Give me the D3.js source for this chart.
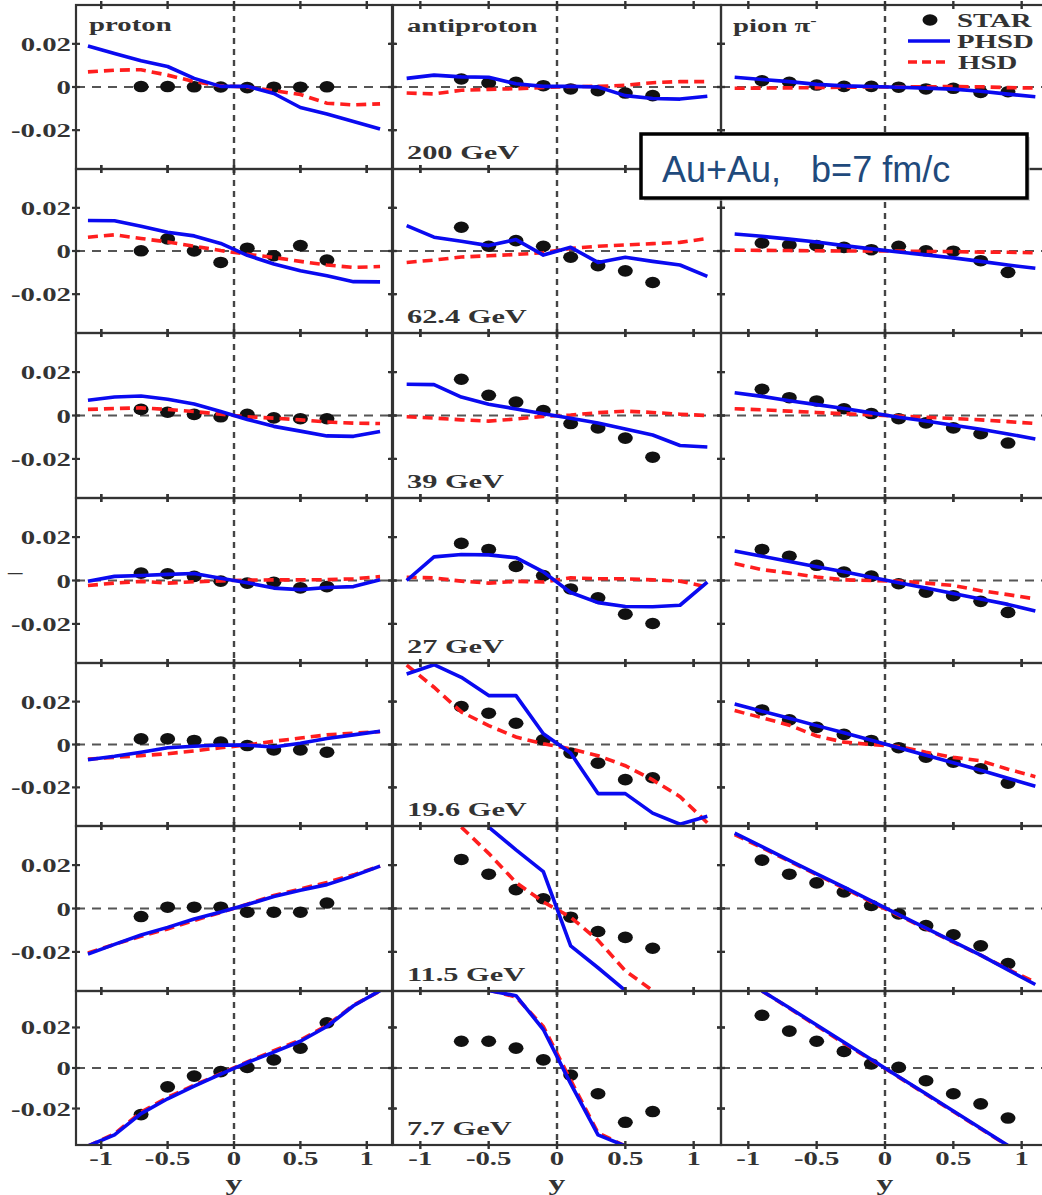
<!DOCTYPE html>
<html>
<head>
<meta charset="utf-8">
<script src="https://cdn.jsdelivr.net/npm/d3@7"></script>
<style>
  html, body { margin: 0; padding: 0; background: #fff; }
  svg { display: block; }
</style>
</head>
<body>
<svg id="chart" width="1042" height="1195"></svg>
<script>
// ---- data: directed flow v1 vs rapidity, Au+Au, b = 7 fm/c ----
const energies = ["200 GeV", "62.4 GeV", "39 GeV", "27 GeV", "19.6 GeV", "11.5 GeV", "7.7 GeV"];
const species = ["proton", "antiproton", "pion π"];

const yStar = [-0.7, -0.5, -0.3, -0.1, 0.1, 0.3, 0.5, 0.7];
const yStarPion = [-0.9, -0.7, -0.5, -0.3, -0.1, 0.1, 0.3, 0.5, 0.7, 0.9];
const yModel = [-1.1, -0.9, -0.7, -0.5, -0.3, -0.1, 0.1, 0.3, 0.5, 0.7, 0.9, 1.1];

const xTicks = [-1, -0.5, 0, 0.5, 1];
const xTickLabels = ["-1", "-0.5", "0", "0.5", "1"];
const vTicks = [0.02, 0, -0.02];
const vTickLabels = ["0.02", "0", "-0.02"];

// STAR measurements (one row per energy)
const starProton = [
  [0.0002, 0.0002, 0.0001, 0.0000, -0.0003, -0.0001, -0.0001, 0.0001],
  [0.0001, 0.0056, 0.0000, -0.0053, 0.0013, -0.0022, 0.0025, -0.0042],
  [0.0028, 0.0015, 0.0005, -0.0006, 0.0005, -0.0011, -0.0015, -0.0015],
  [0.0034, 0.0031, 0.0019, -0.0003, -0.0012, -0.0008, -0.0034, -0.0028],
  [0.0026, 0.0026, 0.0019, 0.0011, -0.0005, -0.0025, -0.0025, -0.0036],
  [-0.0037, 0.0006, 0.0006, 0.0006, -0.0017, -0.0017, -0.0017, 0.0025],
  [-0.0230, -0.0093, -0.0040, -0.0018, 0.0003, 0.0040, 0.0098, 0.0223]
];
const starAntiproton = [
  [0.0037, 0.0019, 0.0022, 0.0006, -0.0009, -0.0017, -0.0028, -0.0040],
  [0.0110, 0.0022, 0.0048, 0.0022, -0.0029, -0.0068, -0.0092, -0.0146],
  [0.0167, 0.0093, 0.0062, 0.0023, -0.0037, -0.0057, -0.0104, -0.0192],
  [0.0171, 0.0143, 0.0065, 0.0023, -0.0039, -0.0080, -0.0155, -0.0198],
  [0.0177, 0.0146, 0.0099, 0.0022, -0.0040, -0.0087, -0.0164, -0.0155],
  [0.0226, 0.0158, 0.0087, 0.0045, -0.0040, -0.0106, -0.0133, -0.0183],
  [0.0132, 0.0132, 0.0098, 0.0040, -0.0035, -0.0127, -0.0268, -0.0215]
];
const starPion = [
  [0.0029, 0.0022, 0.0009, 0.0003, 0.0003, -0.0001, -0.0009, -0.0006, -0.0025, -0.0022],
  [0.0037, 0.0028, 0.0025, 0.0017, 0.0006, 0.0022, 0.0001, -0.0001, -0.0045, -0.0099],
  [0.0121, 0.0082, 0.0067, 0.0031, 0.0009, -0.0015, -0.0034, -0.0057, -0.0084, -0.0127],
  [0.0143, 0.0112, 0.0070, 0.0039, 0.0020, -0.0015, -0.0054, -0.0070, -0.0096, -0.0147],
  [0.0161, 0.0115, 0.0080, 0.0047, 0.0019, -0.0015, -0.0059, -0.0082, -0.0113, -0.0180],
  [0.0223, 0.0158, 0.0118, 0.0076, 0.0014, -0.0025, -0.0079, -0.0121, -0.0172, -0.0254],
  [0.0260, 0.0182, 0.0132, 0.0082, 0.0020, 0.0003, -0.0063, -0.0127, -0.0177, -0.0247]
];

// PHSD model curves
const phsdProton = [
  [0.0190, 0.0155, 0.0122, 0.0095, 0.0040, 0.0003, 0.0003, -0.0030, -0.0095, -0.0125, -0.0160, -0.0195],
  [0.0141, 0.0140, 0.0115, 0.0087, 0.0070, 0.0035, -0.0020, -0.0060, -0.0092, -0.0115, -0.0142, -0.0143],
  [0.0070, 0.0085, 0.0090, 0.0075, 0.0053, 0.0018, -0.0018, -0.0050, -0.0072, -0.0094, -0.0096, -0.0074],
  [-0.0003, 0.0019, 0.0023, 0.0028, 0.0032, 0.0010, -0.0010, -0.0035, -0.0042, -0.0032, -0.0028, 0.0003],
  [-0.0071, -0.0055, -0.0036, -0.0015, -0.0008, -0.0002, -0.0003, -0.0012, 0.0006, 0.0028, 0.0045, 0.0062],
  [-0.0210, -0.0165, -0.0122, -0.0087, -0.0048, -0.0016, 0.0018, 0.0055, 0.0084, 0.0110, 0.0150, 0.0195],
  [-0.0385, -0.0330, -0.0225, -0.0152, -0.0090, -0.0030, 0.0027, 0.0078, 0.0132, 0.0205, 0.0307, 0.0382]
];
const phsdAntiproton = [
  [0.0040, 0.0055, 0.0047, 0.0045, 0.0015, 0.0003, 0.0003, 0.0000, -0.0040, -0.0053, -0.0056, -0.0043],
  [0.0118, 0.0064, 0.0045, 0.0025, 0.0053, -0.0019, 0.0017, -0.0053, -0.0029, -0.0048, -0.0065, -0.0118],
  [0.0144, 0.0142, 0.0085, 0.0052, 0.0030, 0.0008, -0.0013, -0.0035, -0.0062, -0.0090, -0.0138, -0.0145],
  [0.0000, 0.0109, 0.0120, 0.0118, 0.0105, 0.0040, -0.0055, -0.0102, -0.0120, -0.0121, -0.0114, -0.0008],
  [0.0329, 0.0372, 0.0313, 0.0228, 0.0228, 0.0050, -0.0040, -0.0229, -0.0229, -0.0320, -0.0372, -0.0335],
  [null, null, null, 0.0375, 0.0270, 0.0170, -0.0172, -0.0273, -0.0378, null, null, null],
  [null, null, null, 0.0382, 0.0357, 0.0190, -0.0077, -0.0330, -0.0385, null, null, null]
];
const phsdPion = [
  [0.0045, 0.0035, 0.0025, 0.0012, 0.0005, 0.0002, -0.0001, -0.0005, -0.0010, -0.0020, -0.0033, -0.0045],
  [0.0079, 0.0068, 0.0055, 0.0042, 0.0025, 0.0010, -0.0005, -0.0018, -0.0032, -0.0048, -0.0065, -0.0080],
  [0.0105, 0.0088, 0.0068, 0.0050, 0.0032, 0.0012, -0.0008, -0.0025, -0.0045, -0.0063, -0.0085, -0.0108],
  [0.0136, 0.0112, 0.0088, 0.0063, 0.0040, 0.0015, -0.0010, -0.0035, -0.0060, -0.0085, -0.0110, -0.0140],
  [0.0189, 0.0155, 0.0122, 0.0088, 0.0055, 0.0020, -0.0015, -0.0050, -0.0085, -0.0120, -0.0157, -0.0195],
  [0.0347, 0.0285, 0.0222, 0.0160, 0.0098, 0.0035, -0.0028, -0.0090, -0.0153, -0.0215, -0.0283, -0.0350],
  [null, 0.0380, 0.0297, 0.0212, 0.0127, 0.0042, -0.0043, -0.0127, -0.0212, -0.0297, -0.0383, null]
];

// HSD model curves
const hsdProton = [
  [0.0070, 0.0078, 0.0080, 0.0055, 0.0025, 0.0005, 0.0000, -0.0017, -0.0035, -0.0075, -0.0083, -0.0078],
  [0.0064, 0.0075, 0.0058, 0.0042, 0.0022, 0.0002, -0.0015, -0.0030, -0.0048, -0.0065, -0.0076, -0.0072],
  [0.0028, 0.0032, 0.0035, 0.0028, 0.0018, 0.0006, -0.0006, -0.0012, -0.0020, -0.0030, -0.0035, -0.0037],
  [-0.0023, -0.0012, -0.0004, -0.0012, -0.0006, -0.0002, 0.0002, 0.0003, 0.0003, 0.0004, 0.0008, 0.0018],
  [-0.0068, -0.0060, -0.0052, -0.0043, -0.0030, -0.0015, -0.0002, 0.0015, 0.0030, 0.0045, 0.0053, 0.0060],
  [-0.0205, -0.0165, -0.0128, -0.0094, -0.0055, -0.0018, 0.0020, 0.0060, 0.0090, 0.0120, 0.0155, 0.0195],
  [-0.0385, -0.0325, -0.0218, -0.0145, -0.0085, -0.0028, 0.0030, 0.0085, 0.0138, 0.0210, 0.0310, 0.0380]
];
const hsdAntiproton = [
  [-0.0028, -0.0032, -0.0015, -0.0011, -0.0008, -0.0002, 0.0002, 0.0003, 0.0008, 0.0020, 0.0025, 0.0025],
  [-0.0053, -0.0042, -0.0028, -0.0022, -0.0016, -0.0008, 0.0012, 0.0022, 0.0028, 0.0034, 0.0040, 0.0058],
  [-0.0006, -0.0012, -0.0020, -0.0026, -0.0016, -0.0004, 0.0002, 0.0013, 0.0020, 0.0014, 0.0006, 0.0000],
  [0.0015, 0.0012, -0.0003, -0.0012, -0.0004, -0.0007, 0.0012, 0.0008, 0.0008, 0.0003, -0.0003, -0.0030],
  [0.0370, 0.0267, 0.0152, 0.0088, 0.0035, 0.0003, -0.0020, -0.0052, -0.0099, -0.0165, -0.0243, -0.0365],
  [null, null, 0.0375, 0.0254, 0.0120, 0.0030, -0.0040, -0.0146, -0.0287, -0.0378, null, null],
  [null, null, null, 0.0385, 0.0350, 0.0205, -0.0060, -0.0320, -0.0385, null, null, null]
];
const hsdPion = [
  [-0.0006, -0.0005, -0.0004, -0.0003, -0.0001, 0.0000, 0.0000, 0.0001, 0.0002, 0.0001, -0.0003, -0.0005],
  [0.0004, 0.0003, 0.0002, 0.0001, 0.0000, 0.0000, 0.0000, -0.0002, -0.0003, -0.0005, -0.0006, -0.0008],
  [0.0031, 0.0026, 0.0020, 0.0014, 0.0008, 0.0003, -0.0003, -0.0008, -0.0014, -0.0020, -0.0028, -0.0037],
  [0.0078, 0.0050, 0.0034, 0.0016, 0.0003, 0.0000, -0.0003, -0.0012, -0.0023, -0.0047, -0.0065, -0.0085],
  [0.0158, 0.0125, 0.0090, 0.0040, 0.0011, 0.0000, -0.0009, -0.0036, -0.0060, -0.0076, -0.0115, -0.0150],
  [0.0340, 0.0280, 0.0218, 0.0156, 0.0094, 0.0030, -0.0032, -0.0093, -0.0155, -0.0215, -0.0280, -0.0340],
  [null, 0.0380, 0.0295, 0.0208, 0.0122, 0.0040, -0.0045, -0.0130, -0.0215, -0.0300, -0.0385, null]
];

const starSets = [starProton, starAntiproton, starPion];
const phsdSets = [phsdProton, phsdAntiproton, phsdPion];
const hsdSets = [hsdProton, hsdAntiproton, hsdPion];
const starX = [yStar, yStar, yStarPion];

// ---- layout ----
const rowEdges = [5, 169, 333, 498, 663, 826, 991, 1145];
const colRanges = [[76, 392], [393, 721], [721, 1049]];
const colDomains = [[-1.19, 1.19], [-1.2, 1.2], [-1.2, 1.2]];
const vDomain = [-0.038, 0.038];

const INK = "#333";
const BLUE = "#0a0af0";
const RED = "#ff1e1e";
const SERIF = "'Liberation Serif', 'Times New Roman', serif";

const svg = d3.select("#chart");
const defs = svg.append("defs");

// bold serif label, stretched horizontally like the figure lettering
function serifText(parent, x, y, str, size, anchor) {
  return parent.append("text")
    .attr("transform", `translate(${x},${y}) scale(1.6,1)`)
    .attr("text-anchor", anchor || "start")
    .attr("font-family", SERIF)
    .attr("font-weight", "bold")
    .attr("font-size", size)
    .attr("fill", INK)
    .text(str);
}

for (let r = 0; r < energies.length; r++) {
  for (let c = 0; c < species.length; c++) {
    const x = d3.scaleLinear().domain(colDomains[c]).range(colRanges[c]);
    const y = d3.scaleLinear().domain(vDomain).range([rowEdges[r + 1], rowEdges[r]]);
    const [x0, x1] = colRanges[c];
    const [yb, yt] = [rowEdges[r + 1], rowEdges[r]];
    const id = `clip-${r}-${c}`;
    defs.append("clipPath").attr("id", id)
      .append("rect").attr("x", x0).attr("y", yt).attr("width", x1 - x0).attr("height", yb - yt);

    const g = svg.append("g");
    const inner = g.append("g").attr("clip-path", `url(#${id})`);

    // reference lines v1 = 0 and y = 0
    inner.append("line")
      .attr("x1", x0).attr("x2", x1).attr("y1", y(0)).attr("y2", y(0))
      .attr("stroke", "#555").attr("stroke-width", 1.8).attr("stroke-dasharray", "9,7");
    inner.append("line")
      .attr("x1", x(0)).attr("x2", x(0)).attr("y1", yt).attr("y2", yb)
      .attr("stroke", "#444").attr("stroke-width", 2.4).attr("stroke-dasharray", "6,5");

    // STAR points
    const pts = starX[c].map((v, i) => [v, starSets[c][r][i]]);
    inner.selectAll("ellipse.star").data(pts).join("ellipse")
      .attr("class", "star")
      .attr("cx", d => x(d[0])).attr("cy", d => y(d[1]))
      .attr("rx", 7.5).attr("ry", 5.8).attr("fill", "#111");

    const line = d3.line()
      .defined(d => d[1] !== null)
      .x(d => x(d[0])).y(d => y(d[1]));

    inner.append("path")
      .datum(yModel.map((v, i) => [v, hsdSets[c][r][i]]))
      .attr("d", line).attr("fill", "none")
      .attr("stroke", RED).attr("stroke-width", 3.6).attr("stroke-dasharray", "10,6");
    inner.append("path")
      .datum(yModel.map((v, i) => [v, phsdSets[c][r][i]]))
      .attr("d", line).attr("fill", "none")
      .attr("stroke", BLUE).attr("stroke-width", 3.6).attr("stroke-linejoin", "round");

    // frame and ticks
    g.append("rect")
      .attr("x", x0).attr("y", yt).attr("width", x1 - x0).attr("height", yb - yt)
      .attr("fill", "none").attr("stroke", INK).attr("stroke-width", 2.2);
    xTicks.forEach(t => {
      [yt, yb].forEach(yy => g.append("line")
        .attr("x1", x(t)).attr("x2", x(t)).attr("y1", yy - 4).attr("y2", yy + 4)
        .attr("stroke", INK).attr("stroke-width", 2.4));
    });
    vTicks.forEach(t => {
      [x0, x1].forEach(xx => g.append("line")
        .attr("x1", xx - 4).attr("x2", xx + 4).attr("y1", y(t)).attr("y2", y(t))
        .attr("stroke", INK).attr("stroke-width", 2.2));
    });

    // v1 tick labels on the left column
    if (c === 0) {
      vTicks.forEach((t, i) => serifText(svg, 71, y(t) + 7, vTickLabels[i], 18, "end"));
    }
    // rapidity axis under the last row
    if (r === energies.length - 1) {
      xTicks.forEach((t, i) => serifText(svg, x(t), 1165, xTickLabels[i], 18, "middle"));
      serifText(svg, x(0), 1190, "y", 21, "middle");
    }
    // energy labels in the antiproton column
    if (c === 1) {
      serifText(svg, 407, yb - 10, energies[r], 19, "start");
    }
  }
}

// species titles
serifText(svg, 89, 31, species[0], 18, "start");
serifText(svg, 407, 32, species[1], 18, "start");
const pionTitle = serifText(svg, 733, 32, species[2], 18, "start");
pionTitle.append("tspan").attr("dy", -7).attr("font-size", 12).text("-");

// stray fragment of the vertical axis title
serifText(svg, 8, 578, "–", 18, "start");

// legend
const leg = svg.append("g");
leg.append("ellipse").attr("cx", 930).attr("cy", 20).attr("rx", 7.5).attr("ry", 5.8).attr("fill", "#111");
serifText(leg, 957, 27, "STAR", 18, "start");
leg.append("line").attr("x1", 908).attr("x2", 950).attr("y1", 41).attr("y2", 41)
  .attr("stroke", BLUE).attr("stroke-width", 3.6);
serifText(leg, 957, 48, "PHSD", 18, "start");
leg.append("line").attr("x1", 908).attr("x2", 947).attr("y1", 62).attr("y2", 62)
  .attr("stroke", RED).attr("stroke-width", 3.6).attr("stroke-dasharray", "9,5");
serifText(leg, 958, 69, "HSD", 18, "start");

// collision system box
const box = svg.append("g");
box.append("rect").attr("x", 644).attr("y", 137).attr("width", 386).attr("height", 64)
  .attr("fill", "#bbb").attr("opacity", 0.6);
box.append("rect").attr("x", 641).attr("y", 134).attr("width", 386).attr("height", 64)
  .attr("fill", "#fff").attr("stroke", "#000").attr("stroke-width", 3.5);
box.append("text")
  .attr("x", 662).attr("y", 182)
  .attr("xml:space", "preserve")
  .style("white-space", "pre")
  .attr("font-family", "'Liberation Sans', Arial, sans-serif")
  .attr("font-size", 36)
  .attr("fill", "#1f4a7c")
  .text("Au+Au,   b=7 fm/c");
</script>
</body>
</html>
